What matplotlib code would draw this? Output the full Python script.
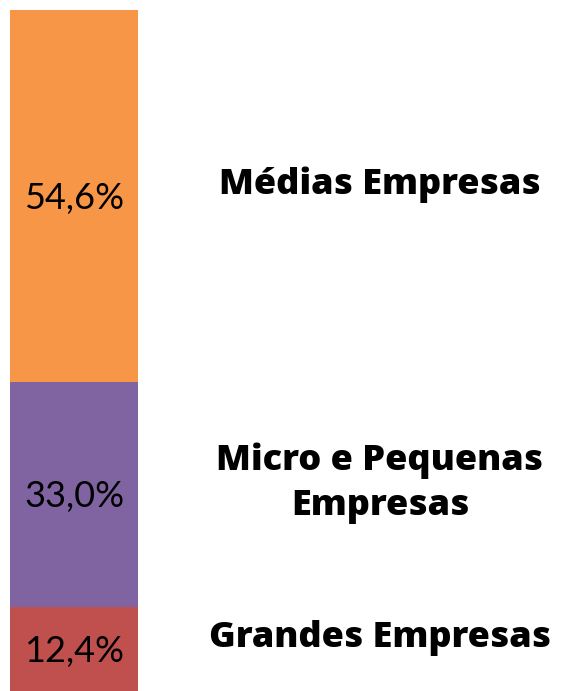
import matplotlib
matplotlib.use("Agg")
import matplotlib.pyplot as plt
import matplotlib.transforms as mtransforms

categories = ["Grandes Empresas", "Micro e Pequenas\nEmpresas", "Médias Empresas"]
values = [12.4, 33.0, 54.6]
value_labels = ["12,4%", "33,0%", "54,6%"]
colors = ["#C0504D", "#8064A2", "#F79646"]

W, H = 561, 691
fig = plt.figure(figsize=(W / 100, H / 100), dpi=100)
ax = fig.add_axes([10 / W, 0, 128 / W, 681 / H])
ax.set_xlim(-0.5, 0.5)
ax.set_ylim(0, sum(values))
ax.axis("off")

bottom = 0
for cat, v, lab, c in zip(categories, values, value_labels, colors):
    ax.bar(0, v, width=1.0, bottom=bottom, color=c, edgecolor="none")
    mid = bottom + v / 2
    # value label, caps centred on segment
    off = mtransforms.ScaledTranslation(0, -13 / 100, fig.dpi_scale_trans)
    ax.text(0, mid, lab, ha="center", va="baseline", fontsize=26,
            family="Lato", color="black", transform=ax.transData + off)
    # category label to the right
    blend = mtransforms.blended_transform_factory(fig.transFigure, ax.transData)
    off2 = mtransforms.ScaledTranslation(0, 11 / 100, fig.dpi_scale_trans)
    ax.text(380 / W, mid, cat, ha="center", va="center", fontsize=26,
            family="Open Sans", fontweight="heavy", color="black",
            linespacing=1.33, transform=blend + off2)
    bottom += v

fig.savefig("out.png", dpi=100)
